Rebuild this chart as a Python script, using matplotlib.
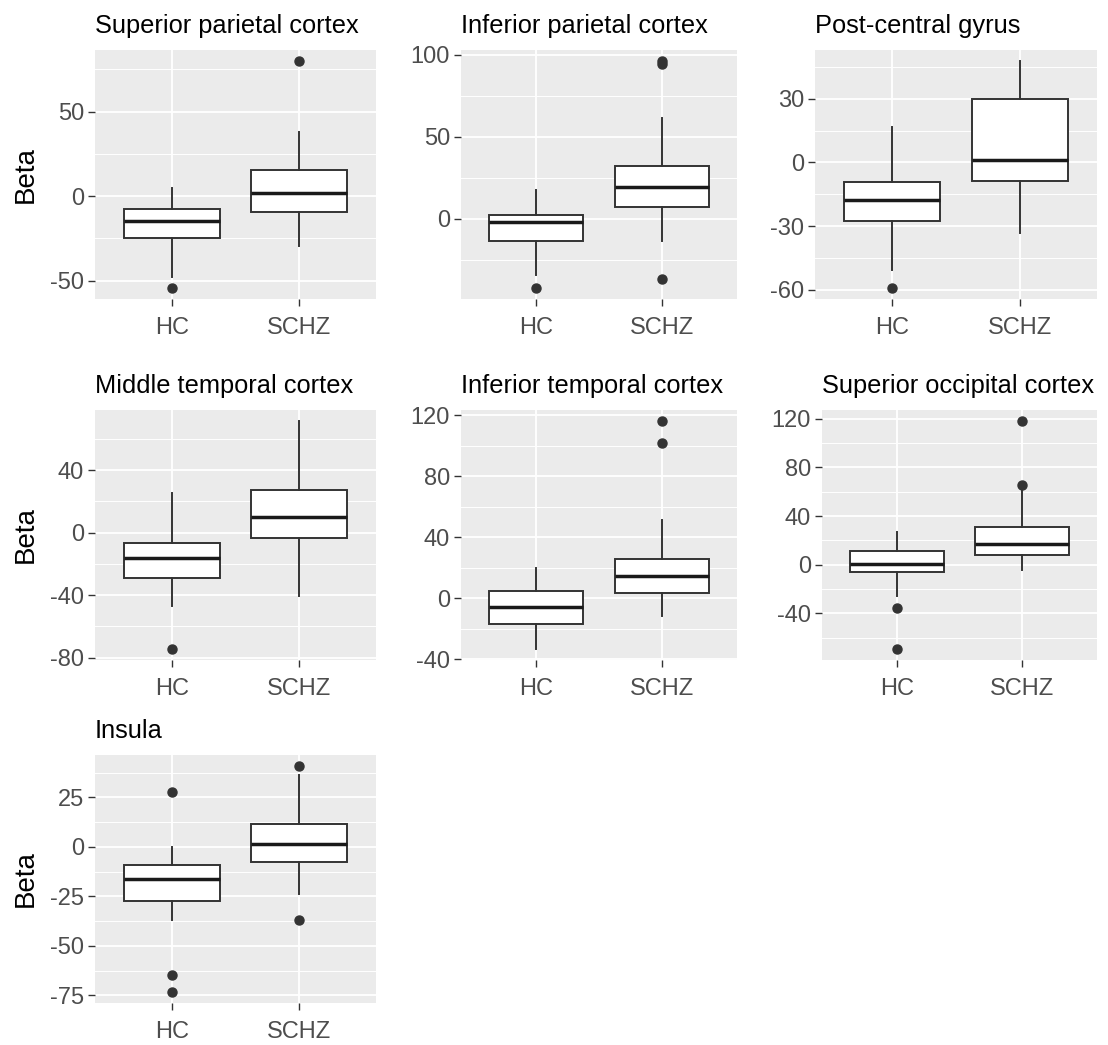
import matplotlib
matplotlib.use("Agg")
import matplotlib.pyplot as plt

plt.rcParams['font.family'] = ['Liberation Sans', 'DejaVu Sans']
plt.rcParams['axes.unicode_minus'] = False

# panel titles and groups
titles = ["Superior parietal cortex", "Inferior parietal cortex", "Post-central gyrus",
          "Middle temporal cortex", "Inferior temporal cortex", "Superior occipital cortex",
          "Insula"]
groups = ["HC", "SCHZ"]

# box stats (HC)
hc_q1 = [-25.1, -13.4, -27.5, -28.7, -16.9, -6.3, -27.4]
hc_med = [-14.9, -1.7, -17.7, -16.5, -5.9, 0.8, -16.2]
hc_q3 = [-7.4, 2.5, -9.0, -6.8, 5.0, 11.6, -9.4]
hc_lo = [-47.8, -34.0, -50.8, -46.8, -33.0, -25.7, -37.0]
hc_hi = [4.6, 17.5, 16.6, 25.2, 19.8, 26.8, 0.0]
hc_out = [[-54.2], [-42.0], [-59.0], [-74.2], [], [-35.9, -69.0], [27.6, -65.0, -73.2]]

# box stats (SCHZ)
sz_q1 = [-9.4, 7.2, -8.9, -3.2, 3.7, 8.3, -7.6]
sz_med = [2.0, 19.3, 1.3, 10.3, 14.9, 17.4, 1.2]
sz_q3 = [15.3, 32.3, 30.0, 27.4, 25.9, 30.9, 11.6]
sz_lo = [-29.5, -13.4, -33.4, -40.4, -11.6, -4.1, -23.6]
sz_hi = [37.8, 61.7, 47.6, 71.2, 51.6, 61.0, 36.5]
sz_out = [[79.7], [94.5, 96.0, -36.6], [], [], [101.5, 116.0], [65.5, 117.8], [40.7, -37.2]]

# axis breaks
major_ticks = [[-50, 0, 50], [0, 50, 100], [-60, -30, 0, 30], [-80, -40, 0, 40],
               [-40, 0, 40, 80, 120], [-40, 0, 40, 80, 120], [-75, -50, -25, 0, 25]]
minor_ticks = [[-25, 25, 75], [-25, 25, 75], [-45, -15, 15, 45], [-60, -20, 20, 60],
               [-20, 20, 60, 100], [-60, -20, 20, 60, 100], [-62.5, -37.5, -12.5, 12.5, 37.5]]

# panel boxes in pixels: left, top, right, bottom
W, H = 1108, 1045
boxes = [(95, 50, 376, 299), (461, 50, 737, 299), (815, 50, 1097, 299),
         (95, 410, 376, 660), (461, 410, 737, 660), (822, 410, 1097, 660),
         (95, 755, 376, 1003)]

fig = plt.figure(figsize=(W / 100, H / 100), dpi=100)

for i, title in enumerate(titles):
    l, t, r, b = boxes[i]
    ax = fig.add_axes([l / W, 1 - b / H, (r - l) / W, (b - t) / H])
    ax.set_facecolor('#EBEBEB')
    for s in ax.spines.values():
        s.set_visible(False)

    stats = [
        dict(med=hc_med[i], q1=hc_q1[i], q3=hc_q3[i], whislo=hc_lo[i], whishi=hc_hi[i], fliers=hc_out[i]),
        dict(med=sz_med[i], q1=sz_q1[i], q3=sz_q3[i], whislo=sz_lo[i], whishi=sz_hi[i], fliers=sz_out[i]),
    ]
    ax.bxp(stats, positions=[1, 2], widths=0.75, patch_artist=True, showcaps=False,
           boxprops=dict(facecolor='white', edgecolor='#333333', linewidth=1.4),
           whiskerprops=dict(color='#333333', linewidth=1.4),
           medianprops=dict(color='#1a1a1a', linewidth=2.5),
           flierprops=dict(marker='o', markerfacecolor='#333333', markeredgecolor='#333333',
                           markersize=6.5),
           zorder=3)

    # ggplot-like 5% expansion of the data range
    vals = [hc_lo[i], hc_hi[i], sz_lo[i], sz_hi[i]] + hc_out[i] + sz_out[i]
    lo, hi = min(vals), max(vals)
    pad = (hi - lo) * 0.05
    ax.set_ylim(lo - pad, hi + pad)
    ax.set_xlim(0.4, 2.6)

    ax.set_yticks(major_ticks[i])
    ax.set_yticks(minor_ticks[i], minor=True)
    ax.set_xticks([1, 2])
    ax.set_xticklabels(groups)
    ax.grid(True, which='major', color='white', linewidth=1.3, zorder=0)
    ax.grid(True, which='minor', axis='y', color='white', linewidth=0.7, zorder=0)
    ax.set_axisbelow(True)
    ax.tick_params(which='major', length=5, width=1.0, color='#333333',
                   labelcolor='#4D4D4D', labelsize=17)
    ax.tick_params(axis='y', pad=3)
    ax.tick_params(axis='x', pad=8)
    ax.tick_params(which='minor', length=0)

    fig.text(l / W, 1 - (t - 17) / H, title, ha='left', va='baseline',
             fontsize=18.3, color='black')
    if l == 95:
        fig.text(25.5 / W, 1 - (t + b) / 2 / H, "Beta", rotation=90, ha='center',
                 va='center', fontsize=20, color='black')

fig.savefig("out.png", dpi=100)
